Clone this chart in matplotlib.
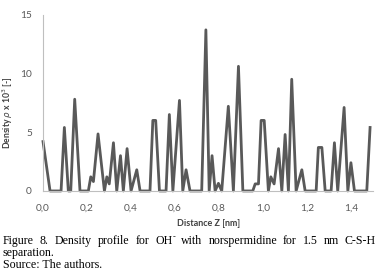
import matplotlib
matplotlib.use("Agg")
import matplotlib.pyplot as plt

# density profile (z in nm, density x 10^3)
z = [0.000, 0.032, 0.082, 0.097, 0.115, 0.126, 0.144, 0.168,
     0.206, 0.217, 0.229, 0.250, 0.279, 0.290, 0.301, 0.320, 0.335,
     0.352, 0.365, 0.382, 0.400, 0.426, 0.441,
     0.486, 0.499, 0.512, 0.529,
     0.559, 0.574, 0.590, 0.620, 0.635, 0.650, 0.668,
     0.721, 0.740, 0.755, 0.768, 0.782, 0.797, 0.812, 0.842, 0.865,
     0.888, 0.908,
     0.953, 0.964, 0.979, 0.991, 1.005, 1.024, 1.035, 1.050, 1.070,
     1.085, 1.100, 1.115, 1.130, 1.150, 1.176, 1.191,
     1.241, 1.251, 1.267, 1.282, 1.309, 1.324, 1.339, 1.368, 1.385,
     1.399, 1.415, 1.471, 1.486]
rho = [4.2, 0.0, 0.0, 5.4, 0.0, 0.0, 7.8, 0.0,
       0.0, 1.2, 0.8, 4.85, 0.0, 1.2, 0.6, 4.1, 0.0,
       3.0, 0.0, 3.6, 0.0, 1.8, 0.0,
       0.0, 6.0, 6.0, 0.0,
       0.0, 6.5, 0.0, 7.7, 0.0, 1.8, 0.0,
       0.0, 13.7, 0.0, 3.0, 0.0, 0.65, 0.0, 7.2, 0.0,
       10.6, 0.0,
       0.0, 0.6, 0.6, 6.0, 6.0, 0.0, 1.2, 0.6, 3.6,
       0.0, 4.8, 0.0, 9.5, 0.0, 1.8, 0.0,
       0.0, 3.7, 3.7, 0.0, 0.0, 4.1, 0.0, 7.1, 0.0,
       2.4, 0.0, 0.0, 5.4]

xticks = [0.0, 0.2, 0.4, 0.6, 0.8, 1.0, 1.2, 1.4]
xticklabels = ['0,0', '0,2', '0,4', '0,6', '0,8', '1,0', '1,2', '1,4']
yticks = [0, 5, 10, 15]

caption1 = 'Figure 8. Density profile for OH with norspermidine for 1.5 nm C-S-H'
caption2 = 'separation.'
caption3 = 'Source: The authors.'

fig = plt.figure(figsize=(3.83, 2.80), dpi=100)
ax = fig.add_axes([0.1123, 0.318, 0.862, 0.630])

ax.plot(z, rho, color='#595959', lw=2.0, solid_joinstyle='round', clip_on=False)

ax.set_xlim(0, 1.5)
ax.set_ylim(0, 15)
ax.set_xticks(xticks)
ax.set_xticklabels(xticklabels)
ax.set_yticks(yticks)
for s in ['top', 'right']:
    ax.spines[s].set_visible(False)
for s in ['left', 'bottom']:
    ax.spines[s].set_color('#bfbfbf')
    ax.spines[s].set_linewidth(0.8)
ax.tick_params(length=0, labelsize=7.3, labelcolor='#595959')
ax.tick_params(axis='x', pad=9)
ax.tick_params(axis='y', pad=8)
for lab in ax.get_xticklabels() + ax.get_yticklabels():
    lab.set_fontfamily('Lato')

ax.set_xlabel('Distance Z [nm]', fontsize=6.5, fontweight='bold', family='Lato', color='#404040')
ax.xaxis.set_label_coords(0.5, -0.16)
ax.set_ylabel(r'Density $\rho$ x 10$^3$ [-]', fontsize=6.2, fontweight='bold', family='Lato', color='#404040')
ax.yaxis.set_label_coords(-0.085, 0.44)

# caption, first line justified across the width
cap_font = dict(fontsize=8.6, family=['Liberation Serif', 'DejaVu Serif'], va='baseline')
x0, x1 = 3 / 383, 376 / 383
y1 = 0.130
words = caption1.split(' ')
r = fig.canvas.get_renderer()
sup = fig.text(0, 0, '-', fontsize=6, family='Liberation Serif')
sup_w = sup.get_window_extent(r).width / fig.bbox.width
sup.remove()
tw = []
for w in words:
    t = fig.text(0, 0, w, **cap_font)
    wd = t.get_window_extent(r).width / fig.bbox.width
    if w == 'OH':
        wd += sup_w
    tw.append(wd)
    t.remove()
gap = (x1 - x0 - sum(tw)) / (len(words) - 1)
xpos = x0
for w, wd in zip(words, tw):
    fig.text(xpos, y1, w, **cap_font)
    if w == 'OH':
        fig.text(xpos + wd - sup_w, y1 + 0.014, '-', fontsize=6,
                 family='Liberation Serif', va='baseline')
    xpos += wd + gap
fig.text(x0, 0.087, caption2, **cap_font)
fig.text(x0, 0.044, caption3, **cap_font)

fig.savefig('out.png', dpi=100)
